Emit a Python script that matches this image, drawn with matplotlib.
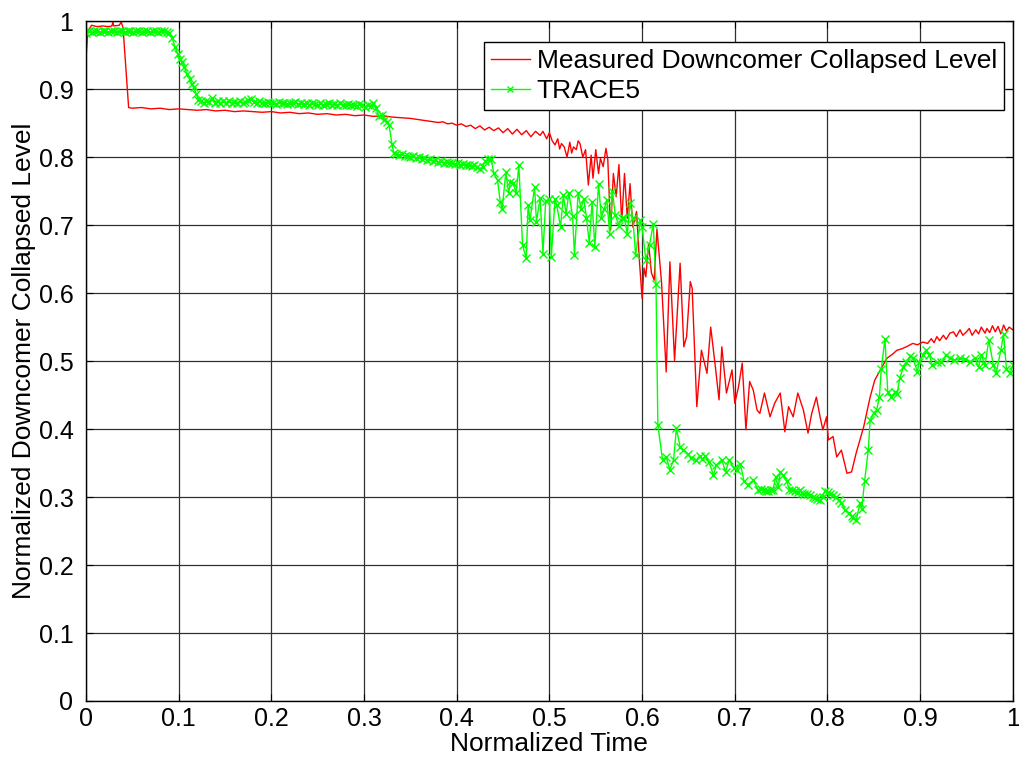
import matplotlib
matplotlib.use("Agg")
import matplotlib.pyplot as plt

plt.rcParams['font.family'] = ['Liberation Sans', 'DejaVu Sans']

# ---------------- data ----------------
measured_x = [0.000, 0.002, 0.006, 0.012, 0.018, 0.024, 0.028, 0.029, 0.030, 0.036, 0.038, 0.040, 0.046,
              0.05, 0.06, 0.07, 0.08, 0.09, 0.10, 0.11, 0.12, 0.13, 0.14, 0.15, 0.16, 0.17, 0.18, 0.19, 0.20,
              0.21, 0.22, 0.23, 0.24, 0.25, 0.26, 0.27, 0.28, 0.29, 0.30, 0.31, 0.32, 0.33, 0.34, 0.35, 0.36,
              0.37, 0.38, 0.385, 0.39, 0.395, 0.40, 0.405, 0.41, 0.415, 0.42, 0.425, 0.43, 0.435, 0.44, 0.445,
              0.45, 0.455, 0.46, 0.465, 0.47, 0.475, 0.48, 0.485, 0.490, 0.493, 0.497, 0.500, 0.503, 0.506, 0.509,
              0.511, 0.513, 0.516, 0.519, 0.522, 0.524, 0.526, 0.529, 0.531, 0.533, 0.536, 0.539, 0.542, 0.545, 0.547,
              0.550, 0.553, 0.555, 0.558, 0.561, 0.563, 0.566, 0.569, 0.572, 0.575, 0.578, 0.581, 0.584, 0.587,
              0.590, 0.594, 0.597, 0.600, 0.602, 0.604, 0.607, 0.610, 0.613, 0.616, 0.621, 0.626, 0.630, 0.635,
              0.641, 0.645, 0.648, 0.652, 0.654, 0.659, 0.664, 0.670, 0.674, 0.679, 0.683, 0.686, 0.691, 0.697,
              0.700, 0.704, 0.708, 0.712, 0.716, 0.720, 0.724, 0.727, 0.732, 0.738, 0.743, 0.749, 0.754, 0.758,
              0.763, 0.768, 0.774, 0.779, 0.783, 0.788, 0.792, 0.795, 0.799, 0.801, 0.806, 0.810, 0.815, 0.821,
              0.826, 0.831, 0.839, 0.846, 0.851, 0.857, 0.864, 0.870, 0.875, 0.880, 0.885, 0.892, 0.897, 0.903,
              0.908, 0.912, 0.915, 0.918, 0.921, 0.925, 0.928, 0.932, 0.936, 0.939, 0.943, 0.946, 0.950, 0.953,
              0.956, 0.960, 0.963, 0.966, 0.970, 0.972, 0.975, 0.978, 0.981, 0.984, 0.987, 0.990, 0.993, 0.996,
              1.000]
measured_y = [0.945, 0.985, 0.994, 0.992, 0.993, 0.992, 0.993, 0.999, 0.993, 0.994, 0.999, 0.990, 0.873,
              0.872, 0.873, 0.871, 0.872, 0.870, 0.871, 0.870, 0.869, 0.870, 0.868, 0.869, 0.867, 0.868, 0.867, 0.866, 0.867,
              0.865, 0.866, 0.864, 0.865, 0.863, 0.864, 0.862, 0.863, 0.861, 0.862, 0.860, 0.861, 0.859, 0.858, 0.857, 0.855,
              0.853, 0.851, 0.852, 0.849, 0.850, 0.847, 0.849, 0.845, 0.847, 0.842, 0.846, 0.840, 0.844, 0.839, 0.843,
              0.836, 0.842, 0.834, 0.841, 0.833, 0.839, 0.830, 0.838, 0.832, 0.838, 0.827, 0.836, 0.824, 0.818, 0.827,
              0.812, 0.820, 0.815, 0.800, 0.822, 0.806, 0.815, 0.811, 0.824, 0.820, 0.800, 0.811, 0.759, 0.803, 0.769,
              0.811, 0.776, 0.798, 0.786, 0.813, 0.796, 0.693, 0.776, 0.742, 0.789, 0.705, 0.776, 0.710, 0.761,
              0.697, 0.720, 0.649, 0.592, 0.637, 0.624, 0.673, 0.630, 0.619, 0.694, 0.615, 0.484, 0.646, 0.501,
              0.644, 0.521, 0.536, 0.617, 0.607, 0.433, 0.516, 0.482, 0.550, 0.492, 0.443, 0.521, 0.453, 0.487,
              0.438, 0.462, 0.497, 0.399, 0.470, 0.457, 0.428, 0.423, 0.453, 0.418, 0.438, 0.453, 0.396, 0.433,
              0.418, 0.453, 0.428, 0.394, 0.423, 0.447, 0.418, 0.399, 0.418, 0.384, 0.389, 0.359, 0.369, 0.335,
              0.337, 0.365, 0.403, 0.447, 0.472, 0.487, 0.504, 0.510, 0.516, 0.518, 0.521, 0.526, 0.524, 0.528,
              0.526, 0.533, 0.527, 0.536, 0.530, 0.538, 0.532, 0.541, 0.543, 0.536, 0.546, 0.538, 0.543, 0.548,
              0.538, 0.546, 0.540, 0.550, 0.541, 0.548, 0.542, 0.552, 0.543, 0.551, 0.540, 0.553, 0.544, 0.550,
              0.546]

trace_x = [0.000, 0.003, 0.006, 0.009, 0.012, 0.015, 0.018, 0.021, 0.024, 0.027, 0.030, 0.033, 0.036, 0.039,
           0.042, 0.045, 0.048, 0.051, 0.054, 0.057, 0.060, 0.063, 0.066, 0.069, 0.072, 0.075, 0.078, 0.081,
           0.084, 0.087, 0.090, 0.093, 0.096, 0.099, 0.101, 0.104, 0.106, 0.109, 0.112, 0.114, 0.116, 0.119,
           0.121, 0.124, 0.127, 0.130, 0.133, 0.136, 0.139, 0.142, 0.145, 0.148, 0.151, 0.154, 0.157, 0.160,
           0.163, 0.166, 0.169, 0.172, 0.175, 0.178, 0.181, 0.184, 0.187, 0.190, 0.193, 0.196, 0.199, 0.202,
           0.205, 0.208, 0.211, 0.214, 0.217, 0.220, 0.223, 0.226, 0.229, 0.232, 0.235, 0.238, 0.241, 0.244,
           0.247, 0.250, 0.253, 0.256, 0.259, 0.262, 0.265, 0.268, 0.271, 0.274, 0.277, 0.280, 0.283, 0.286,
           0.289, 0.292, 0.295, 0.298, 0.301, 0.304, 0.307, 0.310, 0.313, 0.316, 0.319, 0.322, 0.325, 0.327,
           0.330, 0.332, 0.335, 0.338, 0.341, 0.344, 0.347, 0.350, 0.353, 0.356, 0.359, 0.362, 0.365, 0.368,
           0.371, 0.374, 0.377, 0.380, 0.383, 0.386, 0.389, 0.392, 0.395, 0.398, 0.401, 0.404, 0.407, 0.410,
           0.413, 0.416, 0.419, 0.422, 0.425, 0.428, 0.431, 0.434, 0.437, 0.440, 0.444, 0.447, 0.449, 0.453,
           0.456, 0.458, 0.461, 0.464, 0.467, 0.471, 0.475, 0.477, 0.479, 0.484, 0.486, 0.490, 0.493, 0.496,
           0.500, 0.502, 0.506, 0.508, 0.512, 0.515, 0.518, 0.521, 0.525, 0.527, 0.531, 0.534, 0.537, 0.540,
           0.543, 0.546, 0.549, 0.553, 0.556, 0.559, 0.562, 0.565, 0.568, 0.571, 0.575, 0.578, 0.581, 0.584,
           0.587, 0.590, 0.593, 0.598, 0.600, 0.604, 0.608, 0.612, 0.615, 0.617, 0.622, 0.626, 0.630, 0.634,
           0.637, 0.641, 0.644, 0.649, 0.653, 0.658, 0.662, 0.665, 0.668, 0.672, 0.677, 0.680, 0.686, 0.690,
           0.694, 0.699, 0.702, 0.706, 0.710, 0.714, 0.720, 0.725, 0.728, 0.731, 0.734, 0.736, 0.739, 0.741,
           0.744, 0.747, 0.749, 0.752, 0.756, 0.759, 0.762, 0.765, 0.768, 0.770, 0.773, 0.775, 0.778, 0.781,
           0.784, 0.786, 0.789, 0.792, 0.795, 0.797, 0.801, 0.803, 0.806, 0.809, 0.812, 0.815, 0.819, 0.823,
           0.826, 0.828, 0.831, 0.835, 0.837, 0.840, 0.844, 0.846, 0.850, 0.853, 0.856, 0.858, 0.862, 0.865,
           0.869, 0.873, 0.875, 0.878, 0.882, 0.885, 0.889, 0.892, 0.897, 0.899, 0.903, 0.906, 0.910, 0.913,
           0.918, 0.923, 0.928, 0.932, 0.937, 0.943, 0.948, 0.954, 0.959, 0.963, 0.966, 0.970, 0.974, 0.979,
           0.982, 0.987, 0.990, 0.993, 0.997, 1.000]
trace_y = [0.982, 0.985, 0.984, 0.985, 0.985, 0.984, 0.985, 0.985, 0.984, 0.985, 0.985, 0.984, 0.985, 0.985,
           0.984, 0.985, 0.985, 0.984, 0.985, 0.985, 0.984, 0.985, 0.985, 0.984, 0.985, 0.985, 0.984, 0.985,
           0.985, 0.984, 0.982, 0.975, 0.962, 0.952, 0.945, 0.940, 0.932, 0.923, 0.915, 0.908, 0.903, 0.893,
           0.884, 0.882, 0.880, 0.883, 0.881, 0.887, 0.880, 0.882, 0.879, 0.882, 0.880, 0.883, 0.879, 0.881,
           0.880, 0.882, 0.879, 0.881, 0.884, 0.886, 0.881, 0.879, 0.882, 0.880, 0.879, 0.881, 0.879, 0.880,
           0.878, 0.881, 0.879, 0.880, 0.878, 0.880, 0.879, 0.881, 0.878, 0.880, 0.878, 0.879, 0.877, 0.880,
           0.878, 0.877, 0.879, 0.877, 0.878, 0.880, 0.877, 0.878, 0.876, 0.879, 0.877, 0.876, 0.878, 0.876,
           0.877, 0.875, 0.878, 0.876, 0.874, 0.877, 0.875, 0.879, 0.872, 0.860, 0.862, 0.855, 0.852, 0.847,
           0.820, 0.806, 0.805, 0.803, 0.804, 0.801, 0.802, 0.800, 0.801, 0.799, 0.800, 0.797, 0.799, 0.796,
           0.797, 0.794, 0.796, 0.793, 0.795, 0.792, 0.793, 0.791, 0.792, 0.790, 0.791, 0.789, 0.790, 0.788,
           0.789, 0.787, 0.788, 0.785, 0.783, 0.786, 0.795, 0.797, 0.798, 0.776, 0.766, 0.734, 0.724, 0.778,
           0.747, 0.764, 0.762, 0.747, 0.788, 0.671, 0.651, 0.729, 0.707, 0.756, 0.705, 0.740, 0.658, 0.736,
           0.738, 0.653, 0.738, 0.729, 0.697, 0.744, 0.717, 0.747, 0.713, 0.656, 0.748, 0.724, 0.739, 0.711,
           0.673, 0.734, 0.668, 0.761, 0.711, 0.723, 0.737, 0.687, 0.750, 0.715, 0.699, 0.711, 0.710, 0.687,
           0.733, 0.710, 0.656, 0.707, 0.697, 0.649, 0.671, 0.702, 0.613, 0.406, 0.355, 0.359, 0.340, 0.355,
           0.401, 0.374, 0.369, 0.364, 0.357, 0.354, 0.360, 0.356, 0.360, 0.352, 0.332, 0.347, 0.355, 0.337,
           0.355, 0.342, 0.340, 0.349, 0.323, 0.318, 0.325, 0.311, 0.312, 0.310, 0.309, 0.309, 0.311, 0.310,
           0.329, 0.315, 0.337, 0.332, 0.323, 0.311, 0.310, 0.309, 0.307, 0.310, 0.306, 0.305, 0.304, 0.303,
           0.300, 0.298, 0.297, 0.296, 0.300, 0.309, 0.308, 0.305, 0.303, 0.300, 0.296, 0.291, 0.281, 0.276,
           0.272, 0.269, 0.266, 0.291, 0.283, 0.323, 0.369, 0.413, 0.424, 0.428, 0.447, 0.488, 0.533, 0.455,
           0.447, 0.455, 0.451, 0.475, 0.492, 0.499, 0.507, 0.505, 0.484, 0.499, 0.509, 0.516, 0.509, 0.494,
           0.499, 0.499, 0.509, 0.505, 0.501, 0.504, 0.503, 0.499, 0.505, 0.491, 0.509, 0.494, 0.531, 0.494,
           0.482, 0.516, 0.540, 0.489, 0.482, 0.494]

x_ticks = [0, 0.1, 0.2, 0.3, 0.4, 0.5, 0.6, 0.7, 0.8, 0.9, 1]
y_ticks = [0, 0.1, 0.2, 0.3, 0.4, 0.5, 0.6, 0.7, 0.8, 0.9, 1]
tick_labels = ['0', '0.1', '0.2', '0.3', '0.4', '0.5', '0.6', '0.7', '0.8', '0.9', '1']

# ---------------- plot ----------------
fig = plt.figure(figsize=(10.2, 7.57), dpi=100)
ax = fig.add_axes([0.0843, 0.074, 0.9087, 0.898])

ax.plot(measured_x, measured_y, color=(1, 0, 0), lw=1.0,
        label='Measured Downcomer Collapsed Level')
ax.plot(trace_x, trace_y, color=(0, 1, 0), lw=1.0, marker='x', markersize=6,
        markeredgewidth=1.0, label='TRACE5')

ax.set_xlim(0, 1)
ax.set_ylim(0, 1)
ax.set_xticks(x_ticks)
ax.set_yticks(y_ticks)
ax.set_xticklabels(tick_labels)
ax.set_yticklabels(tick_labels)
ax.tick_params(direction='in', labelsize=18, length=5, top=True, right=True)
ax.tick_params(axis='y', pad=9)
ax.tick_params(axis='x', pad=4)
ax.grid(True, color='#303030', lw=0.9, ls='-')
ax.set_axisbelow(True)
for s in ax.spines.values():
    s.set_linewidth(1.0)
    s.set_color('black')

ax.set_xlabel('Normalized Time', fontsize=19, labelpad=1)
ax.set_ylabel('Normalized Downcomer Collapsed Level', fontsize=19, labelpad=2)

leg = ax.legend(loc='upper right', fontsize=19, frameon=True, fancybox=False,
                edgecolor='black', framealpha=1, borderpad=0.25, handlelength=1.5,
                handletextpad=0.25, labelspacing=0.25, markerscale=0.8,
                bbox_to_anchor=(0.990, 0.969), borderaxespad=0)
leg.get_frame().set_linewidth(1.0)
for h in leg.legend_handles:
    try:
        h.set_markevery([1])
    except Exception:
        pass

fig.savefig('out.png', dpi=100)
